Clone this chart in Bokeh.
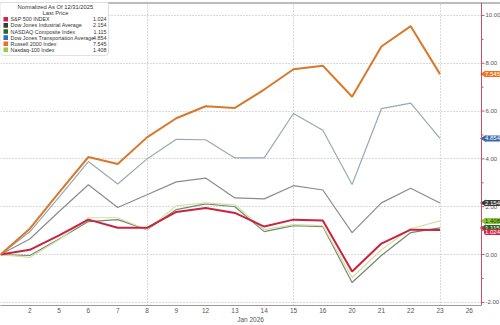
import math
from bokeh.plotting import figure
from bokeh.models import (Range1d, FixedTicker, Label, BoxAnnotation, Span)
from bokeh.embed import file_html
from bokeh.resources import INLINE

# ---- data ----
dates = ["Dec 31", "2", "5", "6", "7", "8", "9", "12", "13", "14", "15",
         "16", "20", "21", "22", "23"]
tick_labels = ["2", "5", "6", "7", "8", "9", "12", "13", "14", "15", "16",
               "20", "21", "22", "23", "26"]
names = ["S&P 500 INDEX", "Dow Jones Industrial Average", "NASDAQ Composite Index",
         "Dow Jones Transportation Average", "Russell 2000 Index", "Nasdaq-100 Index"]
spx = [0, 0.20, 0.80, 1.46, 1.12, 1.12, 1.78, 1.95, 1.74, 1.17, 1.46, 1.42, -0.71, 0.46, 1.04, 1.024]
indu = [0, 0.65, 1.80, 2.92, 1.97, 2.50, 3.04, 3.20, 2.37, 2.33, 2.88, 2.70, 0.92, 2.16, 2.77, 2.154]
ccmp = [0, -0.04, 0.65, 1.38, 1.46, 1.04, 1.88, 2.12, 2.00, 0.96, 1.21, 1.17, -1.17, -0.04, 0.92, 1.115]
tran = [0, 0.95, 2.40, 3.89, 2.95, 4.00, 4.82, 4.80, 4.04, 4.04, 5.90, 5.20, 2.93, 6.10, 6.33, 4.854]
rty = [0, 1.08, 2.60, 4.08, 3.79, 4.90, 5.70, 6.20, 6.13, 6.90, 7.75, 7.90, 6.60, 8.70, 9.55, 7.545]
ndx = [0, -0.12, 0.62, 1.54, 1.54, 1.04, 2.04, 2.16, 2.08, 1.04, 1.25, 1.21, -0.96, 0.20, 1.08, 1.408]
y_ticks = [-2, 0, 2, 4, 6, 8, 10]
y_minor = [-1, 1, 3, 5, 7, 9]

series = [spx, indu, ccmp, tran, rty, ndx]
last = [s[-1] for s in series]
line_colors = ["#c9233f", "#8c8c8c", "#75896f", "#98a9b5", "#d8782b", "#d3dfa6"]
line_widths = [2, 1.2, 1.2, 1.2, 2, 1.2]
key_colors = ["#d6224a", "#3c3c3c", "#1e6b1e", "#2f6fb3", "#f26b21", "#8fd13f"]
tag_colors = ["#d42449", "#3a3a3a", "#1e6b1e", "#3569a8", "#ec7420", "#8cc63f"]
tag_text = ["white", "white", "white", "white", "white", "#1a3300"]

W, H = 500, 325
PX = 29.3                 # pixels per trading day
XAX = 481 / PX            # where the value axis sits
XEND = W / PX
YMIN, YMAX = -2.13, 10.54
FONT = "Liberation Sans"
AXC = "#c9506a"

p = figure(width=W, height=H, output_backend="svg", toolbar_location=None,
           x_range=Range1d(0, XEND), y_range=Range1d(YMIN, YMAX),
           min_border_left=0, min_border_top=2, min_border_right=0, min_border_bottom=0)
p.yaxis.visible = False
p.outline_line_color = None
p.background_fill_color = "white"
p.border_fill_color = "white"

p.xgrid.ticker = FixedTicker(ticks=[0, 5, 10, 15])
p.ygrid.ticker = FixedTicker(ticks=y_ticks)
for g in (p.xgrid, p.ygrid):
    g.grid_line_color = "#b5b5b5"
    g.grid_line_dash = "1 2"
    g.grid_line_width = 1

# blank strip right of the value axis (covers grid there)
p.add_layout(BoxAnnotation(left=XAX, right=XEND, fill_color="white", fill_alpha=1.0,
                           line_color=None, level="underlay"))

x = list(range(len(dates)))
for i in [1, 2, 3, 5, 0, 4]:
    p.line(x, series[i], line_color=line_colors[i], line_width=line_widths[i])

# x axis
xa = p.xaxis[0]
xa.bounds = (0, XAX)
xa.ticker = FixedTicker(ticks=list(range(1, 17)))
xa.major_label_overrides = {i + 1: t for i, t in enumerate(tick_labels)}
xa.major_tick_out = 0
xa.major_tick_in = 0
xa.minor_tick_out = 0
xa.axis_line_color = "#9a9a9a"
xa.major_label_text_font = FONT
xa.major_label_text_font_size = "6.5px"
xa.major_label_text_color = "#555555"
xa.major_label_standoff = 2
xa.axis_label = "Jan 2026"
xa.axis_label_text_font = FONT
xa.axis_label_text_font_size = "6.5px"
xa.axis_label_text_font_style = "normal"
xa.axis_label_text_color = "#555555"
xa.axis_label_standoff = 0

# value axis on the right, drawn by hand
p.add_layout(Span(location=XAX, dimension="height", line_color=AXC, line_width=1))
p.segment(x0=[XAX] * len(y_ticks), x1=[XAX + 3 / PX] * len(y_ticks), y0=y_ticks, y1=y_ticks,
          line_color=AXC, line_width=1)
p.segment(x0=[XAX] * len(y_minor), x1=[XAX + 2 / PX] * len(y_minor), y0=y_minor, y1=y_minor,
          line_color=AXC, line_width=1)
for t in y_ticks:
    p.add_layout(Label(x=XAX, y=t, x_offset=4, text=f"{t:.2f}", text_font=FONT,
                       text_font_size="6px", text_color="#555555",
                       text_align="left", text_baseline="middle"))

# last-price tags (pointed on the left)
tag_order = [4, 3, 1, 2, 5, 0]
tag_off = {0: -2}
for i in tag_order:
    yoff = tag_off.get(i, 0)
    p.add_layout(Label(x=XAX, y=last[i], x_offset=2.5, y_offset=yoff,
                       text=f"{last[i]:.3f}", text_font=FONT, text_font_size="6px",
                       text_color=tag_text[i], text_baseline="middle", text_align="left",
                       background_fill_color=tag_colors[i], padding=1, border_radius=2))
p.scatter(x=[XAX + 2.5 / PX] * len(tag_order), y=[last[i] - tag_off.get(i, 0) / 24 for i in tag_order],
          marker="triangle", angle=math.pi / 2, size=7,
          fill_color=[tag_colors[i] for i in tag_order], line_color=None)

p.add_layout(Span(location=YMAX, dimension="width", line_color="#7a7a7a", line_width=2))

# legend box (screen units measured from frame bottom)
FH = 304.0
def sy(cy):
    return FH - (cy - 2)

p.add_layout(BoxAnnotation(left=0, right=108, top=sy(0), bottom=sy(56),
                           left_units="screen", right_units="screen",
                           top_units="screen", bottom_units="screen",
                           fill_color="white", fill_alpha=1.0,
                           line_color="#9a9a9a", line_width=1, border_radius=3))
for txt, cy in (("Normalized As Of 12/31/2025", 7.3), ("Last Price", 13.5)):
    p.add_layout(Label(x=55, y=sy(cy), x_units="screen", y_units="screen",
                       text=txt, text_font=FONT, text_font_size="5.8px",
                       text_color="#333333", text_align="center", text_baseline="middle"))
for k in range(6):
    cy = 19.8 + 6.1 * k
    p.add_layout(BoxAnnotation(left=3, right=7.5, top=sy(cy - 2.3), bottom=sy(cy + 2.3),
                               left_units="screen", right_units="screen",
                               top_units="screen", bottom_units="screen",
                               fill_color=key_colors[k], fill_alpha=1.0, line_color=None))
    p.add_layout(Label(x=10, y=sy(cy), x_units="screen", y_units="screen",
                       text=names[k], text_font=FONT, text_font_size="5.4px",
                       text_color="#333333", text_align="left", text_baseline="middle"))
    p.add_layout(Label(x=106, y=sy(cy), x_units="screen", y_units="screen",
                       text=f"{last[k]:.3f}", text_font=FONT, text_font_size="5.4px",
                       text_color="#333333", text_align="right", text_baseline="middle"))

open("out.html", "w").write(file_html(p, INLINE))
